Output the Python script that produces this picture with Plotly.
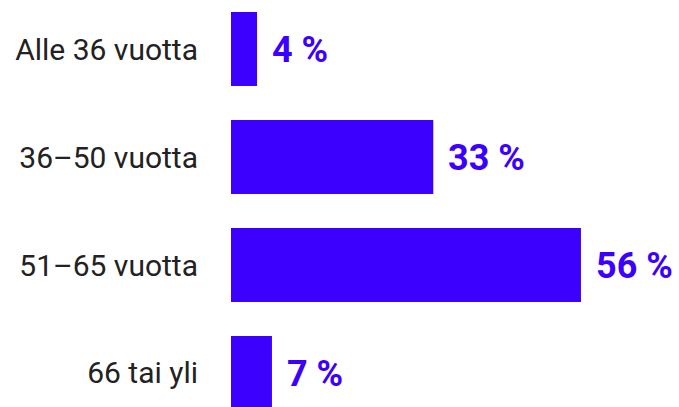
import plotly.graph_objects as go

# Age groups and share of respondents (%)
categories = ["Alle 36 vuotta", "36–50 vuotta", "51–65 vuotta", "66 tai yli"]
values = [4.2, 32.6, 56.4, 6.6]
labels = ["4 %", "33 %", "56 %", "7 %"]

BAR_COLOR = "#3c00ff"

positions = list(range(len(categories)))

fig = go.Figure(
    go.Bar(
        x=values,
        y=positions,
        orientation="h",
        width=0.685,
        marker=dict(color=BAR_COLOR, line=dict(width=0)),
        hoverinfo="skip",
    )
)

# value labels just right of each bar
for pos, val, lab in zip(positions, values, labels):
    fig.add_annotation(
        x=val, y=pos, text=lab,
        xanchor="left", yanchor="middle", xshift=13, yshift=-1, showarrow=False,
        font=dict(family="Roboto", size=36, color=BAR_COLOR, weight="bold"),
    )

fig.update_layout(
    width=679, height=407,
    margin=dict(l=231, r=0, t=0, b=0),
    paper_bgcolor="white",
    plot_bgcolor="white",
    showlegend=False,
    font=dict(family="Roboto", color="#222222"),
)

fig.update_xaxes(range=[0, 72.2], visible=False, fixedrange=True)
fig.update_yaxes(
    range=[3.315, -0.454],
    tickvals=positions,
    ticktext=categories,
    tickfont=dict(size=30, color="#222222"),
    ticklabelstandoff=32,
    showgrid=False, zeroline=False, showline=False, ticks="",
    fixedrange=True,
)

# drop the browser's default body margin so the chart sits at the page corner
fig.write_html(
    "out.html",
    config={"displayModeBar": False},
    post_script="document.body.style.margin='0';",
)
